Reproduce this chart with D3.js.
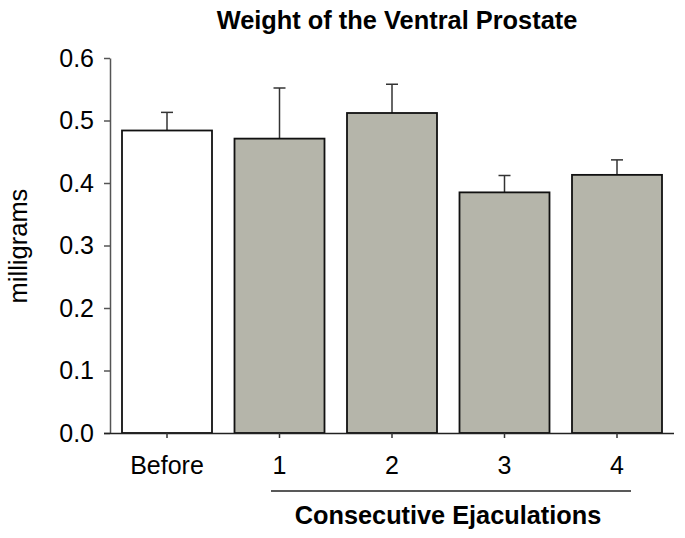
<!DOCTYPE html>
<html>
<head>
<meta charset="utf-8">
<script src="https://cdn.jsdelivr.net/npm/d3@7"></script>
<style>
  html, body { margin: 0; padding: 0; background: #fff; }
  text { font-family: "Liberation Sans", Arial, sans-serif; fill: #000; }
</style>
</head>
<body>
<svg id="chart" width="685" height="538"></svg>
<script>
const categories = ["Before", "1", "2", "3", "4"];
const means = [0.484, 0.471, 0.512, 0.385, 0.413];
const errors = [0.029, 0.081, 0.046, 0.027, 0.024];
const fills = ["#ffffff", "#b5b5aa", "#b5b5aa", "#b5b5aa", "#b5b5aa"];
const yTicks = [0.0, 0.1, 0.2, 0.3, 0.4, 0.5, 0.6];

const svg = d3.select("#chart");

const x = d3.scaleBand().domain(categories).range([110.75, 673.25])
  .paddingInner(0.2).paddingOuter(0.1);
const y = d3.scaleLinear().domain([0, 0.6]).range([433, 58]);

// error bars (drawn first so bars cover the lower half)
const eb = svg.append("g");
categories.forEach((c, i) => {
  const cx = x(c) + x.bandwidth() / 2;
  eb.append("line").attr("x1", cx).attr("x2", cx)
    .attr("y1", y(means[i])).attr("y2", y(means[i] + errors[i]))
    .attr("stroke", "#333").attr("stroke-width", 1.5);
  eb.append("line").attr("x1", cx - 6).attr("x2", cx + 6)
    .attr("y1", y(means[i] + errors[i])).attr("y2", y(means[i] + errors[i]))
    .attr("stroke", "#333").attr("stroke-width", 1.5);
});

// bars
svg.append("g").selectAll("rect").data(categories).join("rect")
  .attr("x", d => x(d))
  .attr("width", x.bandwidth())
  .attr("y", (d, i) => y(means[i]))
  .attr("height", (d, i) => y(0) - y(means[i]))
  .attr("fill", (d, i) => fills[i])
  .attr("stroke", "#111")
  .attr("stroke-width", 1.8);

// y axis
const yAxis = d3.axisLeft(y).tickValues(yTicks).tickFormat(d3.format(".1f"))
  .tickSizeInner(6).tickSizeOuter(0).tickPadding(10);
const gy = svg.append("g").attr("transform", "translate(110,0)").call(yAxis);
gy.select(".domain").attr("stroke", "#555").attr("stroke-width", 1.5);
gy.selectAll(".tick line").attr("stroke", "#555").attr("stroke-width", 1.5);
gy.selectAll(".tick text").style("font-size", "25px").style("font-family", "Liberation Sans, Arial, sans-serif").attr("fill", "#000");

// x axis
const xAxis = d3.axisBottom(x).tickSizeInner(5).tickSizeOuter(0).tickPadding(18);
const gx = svg.append("g").attr("transform", "translate(0,433)").call(xAxis);
gx.select(".domain").attr("d", "M104,0.5H674").attr("stroke", "#222").attr("stroke-width", 1.5);
gx.selectAll(".tick line").attr("stroke", "#333").attr("stroke-width", 1.5);
gx.selectAll(".tick text").style("font-size", "25px").style("font-family", "Liberation Sans, Arial, sans-serif").attr("fill", "#000");

// bracket under consecutive ejaculations
svg.append("line").attr("x1", 271).attr("x2", 631).attr("y1", 491).attr("y2", 491)
  .attr("stroke", "#222").attr("stroke-width", 1.5);

svg.append("text").attr("x", 448).attr("y", 524).attr("text-anchor", "middle")
  .style("font-size", "25.3px").style("font-weight", "bold")
  .text("Consecutive Ejaculations");

// title
svg.append("text").attr("x", 397).attr("y", 29).attr("text-anchor", "middle")
  .style("font-size", "25.4px").style("font-weight", "bold")
  .text("Weight of the Ventral Prostate");

// y label
svg.append("text").attr("transform", "translate(27,246) rotate(-90)")
  .attr("text-anchor", "middle").style("font-size", "25.5px")
  .text("milligrams");
</script>
</body>
</html>
